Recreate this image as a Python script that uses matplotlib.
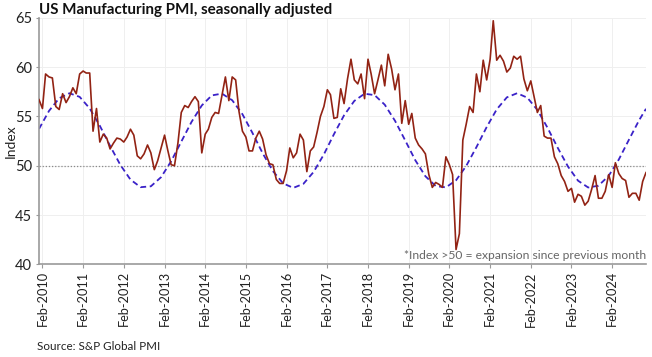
import numpy as np
import pandas as pd
import matplotlib
matplotlib.use("Agg")
import matplotlib.pyplot as plt
import matplotlib.dates as mdates

# monthly PMI readings, Jan 2010 .. Dec 2024
pmi_2010 = [56.7, 55.8, 59.3, 59.0, 58.9, 56.0, 55.7, 57.3, 56.4, 57.0, 57.9, 57.3]
pmi_2011 = [59.3, 59.6, 59.4, 59.4, 53.5, 55.8, 52.4, 53.2, 52.8, 51.7, 52.3, 52.8]
pmi_2012 = [52.7, 52.4, 52.9, 53.7, 53.1, 51.0, 50.7, 51.2, 52.1, 51.3, 49.6, 50.5]
pmi_2013 = [51.8, 53.1, 51.6, 50.1, 50.0, 52.3, 55.4, 56.1, 55.9, 56.5, 57.0, 56.5]
pmi_2014 = [51.3, 53.2, 53.7, 54.9, 55.4, 55.3, 57.1, 59.0, 56.6, 59.0, 58.7, 55.5]
pmi_2015 = [53.5, 52.9, 51.5, 51.5, 52.8, 53.5, 52.7, 51.1, 50.2, 50.1, 48.6, 48.2]
pmi_2016 = [48.2, 49.5, 51.8, 50.8, 51.3, 53.2, 52.6, 49.4, 51.5, 51.9, 53.4, 55.0]
pmi_2017 = [56.0, 57.7, 57.2, 54.8, 54.9, 57.8, 56.3, 58.8, 60.8, 58.7, 58.3, 59.3]
pmi_2018 = [56.8, 60.8, 59.3, 57.3, 58.7, 60.2, 58.1, 61.3, 59.8, 57.7, 59.3, 54.3]
pmi_2019 = [56.6, 54.2, 55.3, 52.8, 52.1, 51.7, 51.2, 49.1, 47.8, 48.3, 48.1, 47.8]
pmi_2020 = [50.9, 50.1, 49.1, 41.5, 43.1, 52.6, 54.2, 56.0, 55.4, 59.3, 57.5, 60.7]
pmi_2021 = [58.7, 60.8, 64.7, 60.7, 61.2, 60.6, 59.5, 59.9, 61.1, 60.8, 61.1, 58.8]
pmi_2022 = [57.6, 58.6, 57.1, 55.4, 56.1, 53.0, 52.8, 52.8, 50.9, 50.2, 49.0, 48.4]
pmi_2023 = [47.4, 47.7, 46.3, 47.1, 46.9, 46.0, 46.4, 47.6, 49.0, 46.7, 46.7, 47.4]
pmi_2024 = [49.1, 47.8, 50.3, 49.2, 48.7, 48.5, 46.8, 47.2, 47.2, 46.5, 48.4, 49.3]

# dashed cycle line, read every 3 months from Jan 2010 (plus Dec 2024)
cycle_month = list(range(0, 178, 3)) + [179]
cycle_vals = [53.73, 55.56, 56.84, 57.35, 56.98, 55.81, 54.05, 52.01, 50.08, 48.59,
              47.82, 47.91, 48.84, 50.45, 52.44, 54.44, 56.11, 57.13, 57.31, 56.64,
              55.22, 53.32, 51.27, 49.46, 48.21, 47.75, 48.16, 49.37, 51.15, 53.19,
              55.11, 56.57, 57.30, 57.16, 56.19, 54.56, 52.56, 50.56, 48.93, 47.94,
              47.80, 48.52, 49.97, 51.88, 53.92, 55.71, 56.93, 57.35, 56.90, 55.66,
              53.85, 51.81, 49.91, 48.48, 47.79, 47.97, 48.97, 50.63, 52.64, 54.63,
              55.77]

y_ticks = [40, 45, 50, 55, 60, 65]
tick_years = list(range(2010, 2025))


def main():
    plt.rcParams["font.family"] = ["Lato", "DejaVu Sans"]

    pmi = (pmi_2010 + pmi_2011 + pmi_2012 + pmi_2013 + pmi_2014 + pmi_2015
           + pmi_2016 + pmi_2017 + pmi_2018 + pmi_2019 + pmi_2020 + pmi_2021
           + pmi_2022 + pmi_2023 + pmi_2024)
    months = pd.date_range("2010-01-01", periods=len(pmi), freq="MS")
    cyc_dates = months[cycle_month]

    fig = plt.figure(figsize=(6.52, 3.57), dpi=100)
    ax = fig.add_axes([39/652, 1 - 264.3/357, (646 - 39)/652, (264.3 - 17.8)/357])

    ax.grid(True, color="#efefef", linewidth=0.7)
    ax.set_axisbelow(True)
    ax.axhline(50, color="#8a8a8a", linestyle=(0, (1, 1.5)), linewidth=0.9, zorder=1)

    ax.plot(cyc_dates, cycle_vals, "--", color="#3a22c8", linewidth=1.3,
            dashes=(3.2, 2), zorder=2)
    ax.plot(months, pmi, color="#922314", linewidth=1.2, zorder=3)

    ax.set_xlim(months[0], months[-1])
    ax.set_ylim(40, 65)
    ax.set_yticks(y_ticks)
    ax.set_xticks([pd.Timestamp(f"{y}-02-01") for y in tick_years])
    ax.xaxis.set_major_formatter(mdates.DateFormatter("%b-%Y"))
    plt.setp(ax.get_xticklabels(), rotation=90)

    for s in ["top", "right"]:
        ax.spines[s].set_visible(False)
    for s in ["left", "bottom"]:
        ax.spines[s].set_color("#9a9a9a")
        ax.spines[s].set_linewidth(1.2)
    ax.tick_params(axis="x", labelsize=9.2, colors="#9a9a9a", labelcolor="#222222",
                   length=3, pad=2)
    ax.tick_params(axis="y", labelsize=10.5, colors="#9a9a9a", labelcolor="#222222",
                   length=2, pad=3)

    ax.set_ylabel("Index", fontsize=10, color="#222222")
    ax.yaxis.set_label_coords(-0.036, 0.5)

    ax.text(months[-1], 40.85, "*Index >50 = expansion since previous month",
            ha="right", va="center", fontsize=8.7, color="#666666")

    fig.text(39/652, 1 - 10/357, "US Manufacturing PMI, seasonally adjusted",
             ha="left", va="center", fontsize=10.9, fontweight="bold", color="#111111")
    fig.text(37/652, 1 - 346/357, "Source: S&P Global PMI",
             ha="left", va="center", fontsize=8.4, color="#222222")

    fig.savefig("out.png", dpi=100)


if __name__ == "__main__":
    main()
